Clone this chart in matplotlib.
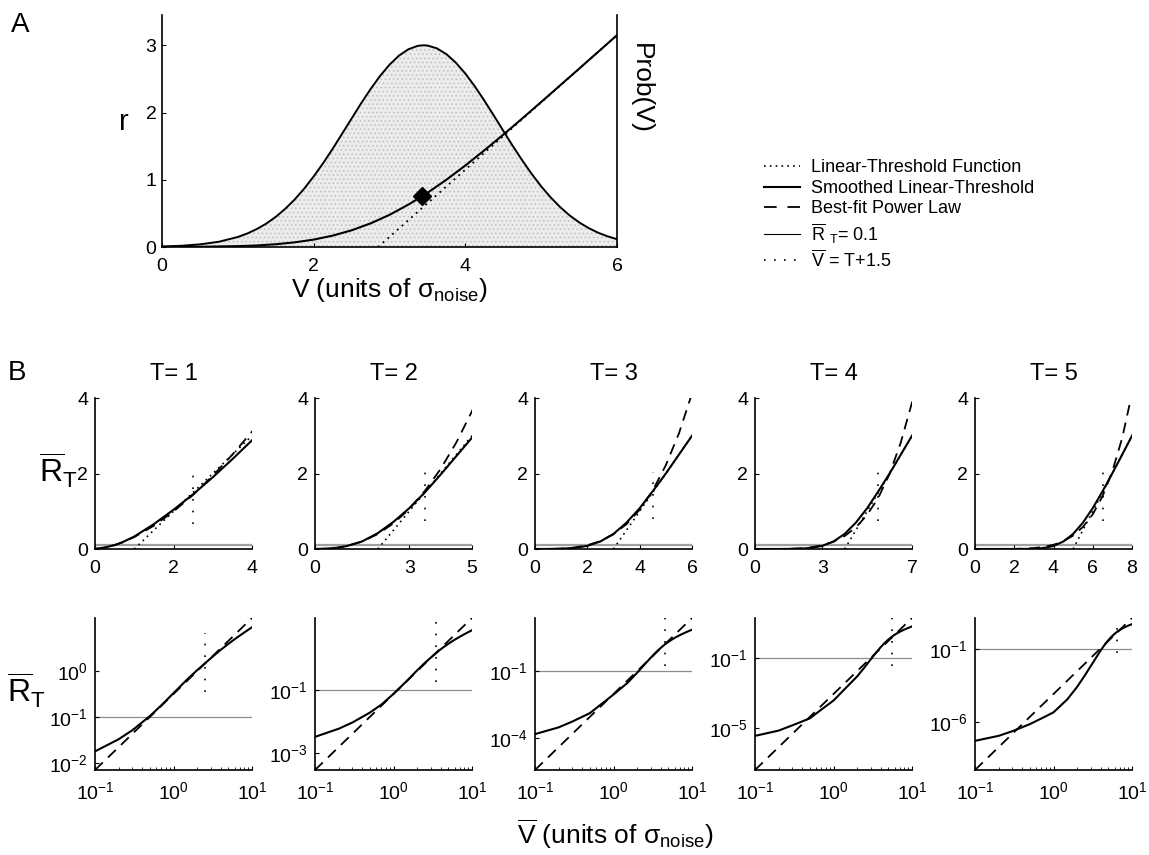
import numpy as np
import matplotlib.pyplot as plt
from matplotlib.lines import Line2D

plt.rcParams.update({
    "font.family": "Liberation Sans",
    "mathtext.fontset": "custom",
    "mathtext.rm": "Liberation Sans",
    "mathtext.it": "Liberation Sans:italic",
    "mathtext.bf": "Liberation Sans:bold",
    "axes.linewidth": 1.2,
    "xtick.direction": "in",
    "ytick.direction": "in",
    "xtick.major.size": 3,
    "ytick.major.size": 3,
    "xtick.minor.size": 2,
    "ytick.minor.size": 2,
    "hatch.linewidth": 0.5,
})

W, H = 1149, 855
GRAY = "#8c8c8c"

# ---------------- panel A ----------------
a_v = [0, 0.25, 0.5, 0.75, 1.0, 1.125, 1.25, 1.375, 1.5, 1.625, 1.75, 1.875,
       2.0, 2.125, 2.25, 2.375, 2.5, 2.625, 2.75, 2.875, 3.0, 3.125, 3.25,
       3.375, 3.45, 3.5, 3.625, 3.75, 3.875, 4.0, 4.125, 4.25, 4.375, 4.5,
       4.625, 4.75, 4.875, 5.0, 5.125, 5.25, 5.375, 5.5, 5.625, 5.75, 5.875,
       6.0]
a_prob = [0.008, 0.018, 0.039, 0.078, 0.149, 0.201, 0.267, 0.348, 0.448,
          0.568, 0.707, 0.868, 1.049, 1.247, 1.460, 1.684, 1.910, 2.135,
          2.348, 2.543, 2.711, 2.846, 2.941, 2.992, 3.0, 2.996, 2.954, 2.868,
          2.741, 2.579, 2.389, 2.178, 1.956, 1.729, 1.504, 1.289, 1.087,
          0.902, 0.738, 0.594, 0.470, 0.367, 0.282, 0.213, 0.159, 0.116]
a_smooth_v = [0, 0.5, 1.0, 1.25, 1.5, 1.75, 2.0, 2.25, 2.5, 2.75, 3.0, 3.25,
              3.43, 3.5, 3.75, 4.0, 4.25, 4.5, 4.75, 5.0, 5.5, 6.0]
a_smooth_r = [0.001, 0.003, 0.013, 0.023, 0.041, 0.069, 0.11, 0.169, 0.248,
              0.351, 0.478, 0.631, 0.754, 0.805, 1.0, 1.212, 1.437, 1.67,
              1.911, 2.156, 2.651, 3.15]
a_lin_v = [2.85, 6.0]
a_lin_r = [0.0, 3.15]
a_mark_v = [3.43]
a_mark_r = [0.754]

# ---------------- panel B ----------------
thresholds = [1, 2, 3, 4, 5]
v_grid = [0, 0.1, 0.2, 0.3, 0.5, 0.7, 1, 1.5, 2, 2.5, 3, 3.5, 4, 4.5, 5,
          5.5, 6, 6.5, 7, 7.5, 8, 9, 10]

smooth_t1 = [0.01, 0.018, 0.033, 0.052, 0.105, 0.18, 0.33, 0.66, 1.04, 1.45,
             1.9, 2.38, 2.88, 3.37, 3.87, 4.37, 4.87, 5.37, 5.87, 6.37, 6.87,
             7.87, 8.87]
smooth_t2 = [0.002, 0.0032, 0.0058, 0.0092, 0.019, 0.034, 0.075, 0.2, 0.42,
             0.72, 1.08, 1.5, 1.97, 2.46, 2.95, 3.45, 3.95, 4.45, 4.95, 5.45,
             5.95, 6.95, 7.95]
smooth_t3 = [1e-4, 1.5e-4, 3e-4, 5.5e-4, 1.3e-3, 3.3e-3, 8.8e-3, 0.029, 0.083,
             0.2, 0.4, 0.7, 1.08, 1.53, 2.0, 2.5, 3.0, 3.5, 4.0, 4.5, 5.0,
             6.0, 7.0]
smooth_t4 = [2e-6, 3.5e-6, 7e-6, 1.4e-5, 3.5e-5, 1.1e-4, 3.6e-4, 2.3e-3,
             8.5e-3, 0.029, 0.083, 0.2, 0.4, 0.7, 1.08, 1.53, 2.0, 2.5, 3.0,
             3.5, 4.0, 5.0, 6.0]
smooth_t5 = [3e-8, 5e-8, 1.1e-7, 2.3e-7, 7e-7, 1.7e-6, 4.5e-6, 3.5e-5, 2.5e-4,
             1.5e-3, 7e-3, 0.026, 0.08, 0.198, 0.399, 0.698, 1.083, 1.53,
             2.008, 2.5, 3.0, 4.0, 5.0]

power_t1 = [0, 0.0071, 0.0222, 0.0434, 0.1007, 0.175, 0.316, 0.617, 0.993,
            1.435, 1.94, 2.50, 3.11, 3.78, 4.50, 5.26, 6.08, 6.93, 7.84, 8.79,
            9.77, 11.9, 14.1]
power_t2 = [0, 2.82e-4, 1.51e-3, 4.02e-3, 0.01387, 0.0313, 0.0741, 0.198,
            0.396, 0.681, 1.057, 1.54, 2.12, 2.82, 3.65, 4.58, 5.66, 6.87,
            8.22, 9.72, 11.35, 15.1, 19.5]
power_t3 = [0, 3.72e-6, 3.92e-5, 1.556e-4, 8.85e-4, 2.77e-3, 9.33e-3, 0.037,
            0.0984, 0.210, 0.391, 0.661, 1.04, 1.55, 2.22, 3.06, 4.12, 5.42,
            6.97, 8.81, 10.96, 16.4, 23.4]
power_t4 = [0, 3.98e-8, 8.0e-7, 4.62e-6, 4.24e-5, 1.82e-4, 8.51e-4, 4.92e-3,
            0.0171, 0.045, 0.0989, 0.193, 0.344, 0.573, 0.906, 1.36, 1.99,
            2.82, 3.88, 5.24, 6.92, 11.5, 18.2]
power_t5 = [0, 5.01e-10, 1.85e-8, 1.53e-7, 2.20e-6, 1.27e-5, 8.13e-5, 6.71e-4,
            3.01e-3, 9.62e-3, 0.0249, 0.0555, 0.111, 0.206, 0.356, 0.585,
            0.92, 1.40, 2.06, 2.94, 4.12, 7.60, 13.2]

# dotted V = T+1.5 segments (low, high) in the linear and log rows
mark_lin = [(0.67, 1.95), (0.75, 2.05), (0.8, 2.05), (0.75, 2.05), (0.75, 2.1)]
mark_log = [(0.35, 6.7), (0.18, 20), (0.17, 25), (0.035, 20), (0.054, 14)]

top_xmax = [4, 5, 6, 7, 8]
top_xticks = [[0, 2, 4], [0, 3, 5], [0, 2, 4, 6], [0, 3, 7], [0, 2, 4, 6, 8]]
log_yticks = [[1e-2, 1e-1, 1e0], [1e-3, 1e-1], [1e-4, 1e-1], [1e-5, 1e-1],
              [1e-6, 1e-1]]

smooth_all = [smooth_t1, smooth_t2, smooth_t3, smooth_t4, smooth_t5]
power_all = [power_t1, power_t2, power_t3, power_t4, power_t5]

DOT = (0, (1, 2.5))
SPARSE = (0, (1, 6))
DASH = (0, (6, 4))
TICK_FS = 14


def box(l, t, r, b):
    return [l / W, 1 - b / H, (r - l) / W, (b - t) / H]


def sup_label(v):
    return r"$\mathrm{10^{%d}}$" % int(round(np.log10(v)))


fig = plt.figure(figsize=(W / 100, H / 100), dpi=100)

# ---------------- panel A ----------------
axA = fig.add_axes(box(162, 15, 617, 247))
axA.fill_between(a_v, 0, a_prob, facecolor="#ececec", edgecolor="#b8b8b8",
                 hatch="....", linewidth=0, zorder=1)
axA.plot(a_v, a_prob, color="k", lw=1.4, zorder=3)
axA.plot(a_lin_v, a_lin_r, color="k", lw=1.3, ls=DOT, zorder=3)
axA.plot(a_smooth_v, a_smooth_r, color="k", lw=1.5, zorder=4)
axA.plot(a_mark_v, a_mark_r, marker="D", ms=9, color="k", ls="none", zorder=5)
axA.set_xlim(0, 6)
axA.set_ylim(0, 3.45)
axA.set_xticks([0, 2, 4, 6])
axA.set_yticks([0, 1, 2, 3])
axA.spines["top"].set_visible(False)
axA.tick_params(labelsize=TICK_FS, pad=8)
axA.tick_params(axis="y", pad=4)
axA.set_xlabel(r"V (units of $\mathrm{σ_{noise}}$)", fontsize=19, labelpad=1)
fig.text(124 / W, 1 - 122 / H, "r", fontsize=21, ha="center", va="center")
fig.text(641 / W, 1 - 88 / H, "Prob(V)", fontsize=19, rotation=-90,
         ha="center", va="center")
fig.text(20 / W, 1 - 25 / H, "A", fontsize=20, ha="center", va="center")

handles = [
    Line2D([], [], color="k", lw=1.2, ls=DOT),
    Line2D([], [], color="k", lw=1.5),
    Line2D([], [], color="k", lw=1.3, ls=(0, (7, 6))),
    Line2D([], [], color="k", lw=0.8),
    Line2D([], [], color="k", lw=1.2, ls=(0, (1, 5))),
]
labels = ["Linear-Threshold Function", "Smoothed Linear-Threshold",
          "Best-fit Power Law", r"$\overline{\mathrm{R}}$ $_{\mathrm{T}}$= 0.1",
          r"$\overline{\mathrm{V}}$ = T+1.5"]
fig.legend(handles, labels, loc="upper left",
           bbox_to_anchor=(757 / W, 1 - 152 / H), frameon=False, fontsize=13,
           handlelength=2.0, handletextpad=0.6, labelspacing=0.2,
           borderaxespad=0)

# ---------------- panel B ----------------
v = np.array(v_grid)
pos = v > 0
for i, T in enumerate(thresholds):
    left = 95 + 220 * i
    sm = np.array(smooth_all[i])
    pw = np.array(power_all[i])

    # linear row
    ax = fig.add_axes(box(left, 398, left + 157, 549))
    xmax = top_xmax[i]
    ax.axhline(0.1, color="#a0a0a0", lw=1.6, zorder=1)
    ax.plot([T, xmax], [0, xmax - T], color="k", lw=1.2, ls=DOT, zorder=2)
    ax.plot(v, pw, color="k", lw=1.3, ls=DASH, zorder=3)
    ax.plot(v, sm, color="k", lw=1.5, zorder=4)
    ax.plot([T + 1.5, T + 1.5], mark_lin[i], color="k", lw=1.2, ls=SPARSE,
            zorder=3)
    ax.set_xlim(0, xmax)
    ax.set_ylim(0, 4)
    ax.set_xticks(top_xticks[i])
    ax.set_yticks([0, 2, 4])
    for s in ("top", "right"):
        ax.spines[s].set_visible(False)
    ax.tick_params(labelsize=TICK_FS)
    ax.tick_params(axis="x", pad=8)
    ax.tick_params(axis="y", pad=5)
    ax.set_title("T= %d" % T, fontsize=17, pad=13)

    # log row
    axl = fig.add_axes(box(left, 618, left + 157, 770))
    axl.set_xscale("log")
    axl.set_yscale("log")
    axl.axhline(0.1, color=GRAY, lw=0.9, zorder=1)
    axl.plot(v[pos], pw[pos], color="k", lw=1.3, ls=DASH, zorder=3)
    axl.plot(v[pos], sm[pos], color="k", lw=1.5, zorder=4)
    axl.plot([T + 1.5, T + 1.5], mark_log[i], color="k", lw=1.2, ls=SPARSE,
             zorder=3)
    axl.set_xlim(0.1, 10)
    axl.set_ylim(pw[pos][0], pw[pos][-1])
    axl.set_xticks([0.1, 1, 10])
    axl.set_xticklabels([sup_label(t) for t in [0.1, 1, 10]])
    axl.set_yticks(log_yticks[i])
    axl.set_yticklabels([sup_label(t) for t in log_yticks[i]])
    axl.yaxis.set_minor_locator(plt.NullLocator())
    for s in ("top", "right"):
        axl.spines[s].set_visible(False)
    axl.tick_params(labelsize=TICK_FS)
    axl.tick_params(axis="x", pad=8)
    axl.tick_params(axis="y", pad=5)

fig.text(17 / W, 1 - 373 / H, "B", fontsize=20, ha="center", va="center")
fig.text(58 / W, 1 - 470 / H, r"$\overline{\mathrm{R}}_{\mathrm{T}}$",
         fontsize=23, ha="center", va="center")
fig.text(26 / W, 1 - 690 / H, r"$\overline{\mathrm{R}}_{\mathrm{T}}$",
         fontsize=23, ha="center", va="center")
fig.text(615 / W, 1 - 834 / H,
         r"$\overline{\mathrm{V}}$ (units of $\mathrm{σ_{noise}}$)",
         fontsize=19, ha="center", va="center")

fig.savefig("out.png", dpi=100, facecolor="white")
